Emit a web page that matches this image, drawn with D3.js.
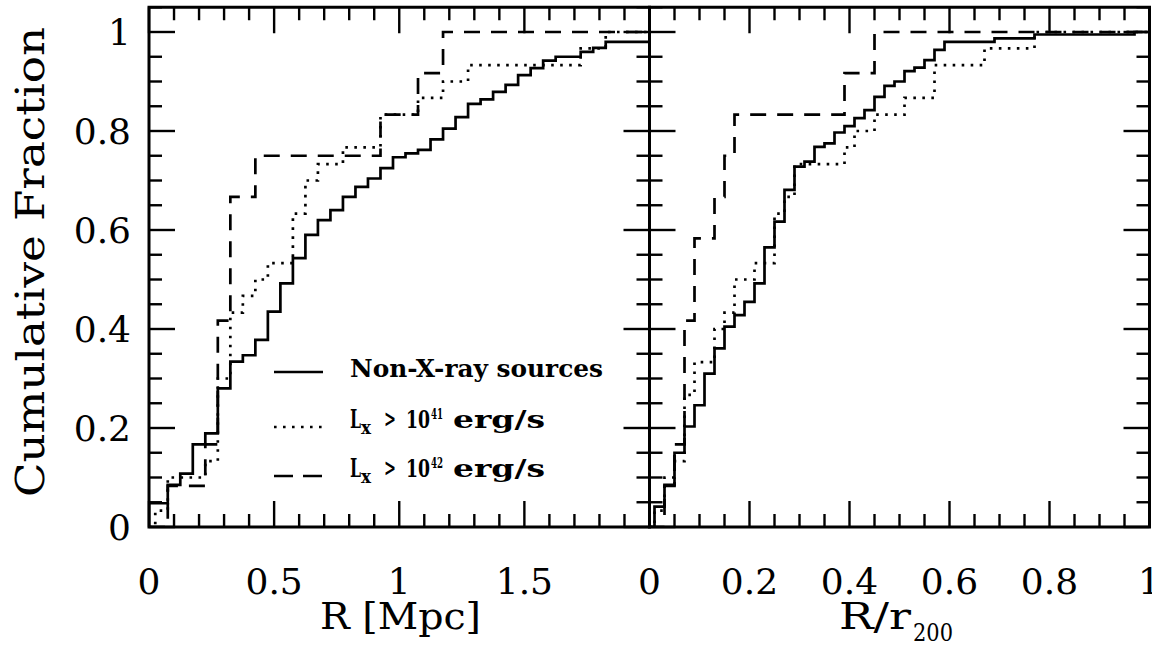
<!DOCTYPE html>
<html><head><meta charset="utf-8">
<script src="https://cdn.jsdelivr.net/npm/d3@7"></script>
<style>body{margin:0;background:#fff}svg{display:block}</style>
</head><body><svg id="c" width="1152" height="646"></svg>
<script>
// ---------------- data ----------------
const seriesNames = ["Non-X-ray sources", "L_X > 10^41 erg/s", "L_X > 10^42 erg/s"];

// Left panel: R [Mpc]; step positions and cumulative level after each step
const leftSolidX  = [0.0, 0.075, 0.125, 0.175, 0.225, 0.275, 0.325, 0.375, 0.425, 0.475, 0.525, 0.575, 0.625, 0.675, 0.725, 0.775, 0.825, 0.875, 0.925, 0.975, 1.025, 1.075, 1.125, 1.175, 1.225, 1.275, 1.325, 1.375, 1.425, 1.475, 1.525, 1.575, 1.625, 1.725, 1.775, 1.825];
const leftSolidY  = [0.048, 0.085, 0.108, 0.167, 0.189, 0.28, 0.334, 0.347, 0.378, 0.435, 0.492, 0.543, 0.590, 0.620, 0.640, 0.667, 0.687, 0.704, 0.725, 0.747, 0.755, 0.762, 0.783, 0.805, 0.828, 0.855, 0.864, 0.879, 0.893, 0.913, 0.927, 0.942, 0.950, 0.960, 0.968, 0.980];
const leftDotX    = [0.025, 0.075, 0.225, 0.275, 0.325, 0.375, 0.425, 0.475, 0.575, 0.625, 0.675, 0.775, 0.925, 1.075, 1.175, 1.275, 1.725, 1.825];
const leftDotY    = [0.033, 0.1, 0.133, 0.3, 0.433, 0.467, 0.5, 0.533, 0.633, 0.7, 0.733, 0.767, 0.833, 0.867, 0.9, 0.933, 0.967, 1.0];
const leftDashX   = [0.075, 0.225, 0.275, 0.325, 0.425, 0.925, 1.075, 1.175];
const leftDashY   = [0.083, 0.167, 0.417, 0.667, 0.75, 0.833, 0.917, 1.0];

// Right panel: R/r200
const rightSolidX = [0.01, 0.03, 0.05, 0.07, 0.09, 0.11, 0.13, 0.15, 0.17, 0.19, 0.21, 0.23, 0.25, 0.27, 0.29, 0.31, 0.33, 0.35, 0.37, 0.39, 0.41, 0.43, 0.45, 0.47, 0.49, 0.51, 0.53, 0.55, 0.57, 0.59, 0.69, 0.77, 0.97];
const rightSolidY = [0.041, 0.085, 0.15, 0.203, 0.246, 0.31, 0.361, 0.405, 0.428, 0.455, 0.492, 0.565, 0.617, 0.681, 0.728, 0.738, 0.768, 0.775, 0.797, 0.81, 0.826, 0.842, 0.869, 0.891, 0.90, 0.921, 0.928, 0.943, 0.964, 0.980, 0.987, 0.995, 1.0];
const rightDotX   = [0.01, 0.03, 0.05, 0.07, 0.09, 0.13, 0.15, 0.17, 0.21, 0.25, 0.27, 0.29, 0.39, 0.41, 0.45, 0.51, 0.57, 0.67, 0.77];
const rightDotY   = [0.033, 0.1, 0.133, 0.267, 0.333, 0.4, 0.433, 0.5, 0.533, 0.633, 0.667, 0.733, 0.767, 0.8, 0.833, 0.867, 0.933, 0.967, 1.0];
const rightDashX  = [0.03, 0.05, 0.07, 0.09, 0.13, 0.15, 0.17, 0.39, 0.45];
const rightDashY  = [0.083, 0.167, 0.417, 0.583, 0.667, 0.75, 0.833, 0.917, 1.0];

// axes
const yTickVals = [0, 0.2, 0.4, 0.6, 0.8, 1];
const yTickLabels = ["0", "0.2", "0.4", "0.6", "0.8", "1"];
const leftXTickVals = [0, 0.5, 1, 1.5];
const leftXTickLabels = ["0", "0.5", "1", "1.5"];
const rightXTickVals = [0, 0.2, 0.4, 0.6, 0.8, 1];
const rightXTickLabels = ["0", "0.2", "0.4", "0.6", "0.8", "1"];

// ---------------- drawing ----------------
const svg = d3.select("#c");
const Y0 = 527, Y1 = 7.25;
const y = d3.scaleLinear().domain([0, 1.05]).range([Y0, Y1]);
const xL = d3.scaleLinear().domain([0, 2]).range([149, 649.5]);
const xR = d3.scaleLinear().domain([0, 1]).range([649.5, 1149.5]);

const serif = "'DejaVu Serif', 'Liberation Serif', serif";
const styles = [
  {dash: null},
  {dash: "2.6,6.4"},
  {dash: "16,11"}
];

function stepData(xs, ys, xmax) {
  const pts = [[0, 0]];
  xs.forEach((v, i) => pts.push([v, ys[i]]));
  pts.push([xmax, ys[ys.length - 1]]);
  return pts;
}

function panel(id, xs, xmax, majorX, minorStep, series) {
  const g = svg.append("g");
  const [xa, xb] = xs.range();
  g.append("clipPath").attr("id", id).append("rect")
    .attr("x", xa).attr("y", Y1).attr("width", xb - xa).attr("height", Y0 - Y1);
  const line = d3.line().x(d => xs(d[0])).y(d => y(d[1])).curve(d3.curveStepAfter);
  series.forEach((s, i) => {
    g.append("path")
      .attr("d", line(stepData(s[0], s[1], xmax)))
      .attr("fill", "none").attr("stroke", "#000")
      .attr("stroke-width", 2.7)
      .attr("stroke-dasharray", styles[i].dash)
      .attr("clip-path", `url(#${id})`);
  });
  // ticks
  const tk = g.append("g").attr("stroke", "#000").attr("stroke-width", 2.4);
  const minorX = d3.range(0, xmax + 1e-9, minorStep);
  minorX.forEach(v => {
    const isMaj = majorX.some(m => Math.abs(m - v) < 1e-9);
    const L = isMaj ? 26 : 13;
    tk.append("line").attr("x1", xs(v)).attr("x2", xs(v)).attr("y1", Y0).attr("y2", Y0 - L);
    tk.append("line").attr("x1", xs(v)).attr("x2", xs(v)).attr("y1", Y1).attr("y2", Y1 + L);
  });
  d3.range(0, 1.0501, 0.05).forEach(v => {
    const isMaj = yTickVals.some(m => Math.abs(m - v) < 1e-9);
    const L = isMaj ? 26 : 13;
    tk.append("line").attr("x1", xa).attr("x2", xa + L).attr("y1", y(v)).attr("y2", y(v));
    tk.append("line").attr("x1", xb).attr("x2", xb - L).attr("y1", y(v)).attr("y2", y(v));
  });
  g.append("rect").attr("x", xa).attr("y", Y1).attr("width", xb - xa).attr("height", Y0 - Y1)
    .attr("fill", "none").attr("stroke", "#000").attr("stroke-width", 3);
  return g;
}

panel("clipL", xL, 2, [0, 0.5, 1, 1.5, 2], 0.1,
  [[leftSolidX, leftSolidY], [leftDotX, leftDotY], [leftDashX, leftDashY]]);
panel("clipR", xR, 1, [0, 0.2, 0.4, 0.6, 0.8, 1], 0.05,
  [[rightSolidX, rightSolidY], [rightDotX, rightDotY], [rightDashX, rightDashY]]);

// tick labels
const lab = svg.append("g").attr("font-family", serif).attr("font-size", 36).attr("fill", "#000");
yTickVals.forEach((v, i) => {
  lab.append("text").attr("x", 131).attr("y", y(v) + 13).attr("text-anchor", "end").text(yTickLabels[i]);
});
leftXTickVals.forEach((v, i) => {
  lab.append("text").attr("x", xL(v)).attr("y", 594).attr("text-anchor", "middle").text(leftXTickLabels[i]);
});
rightXTickVals.forEach((v, i) => {
  lab.append("text").attr("x", xR(v)).attr("y", 594).attr("text-anchor", "middle").text(rightXTickLabels[i]);
});

// axis titles
svg.append("text").attr("font-family", serif).attr("font-size", 40)
  .attr("transform", "translate(44,262) rotate(-90)")
  .attr("text-anchor", "middle").attr("textLength", 470).attr("lengthAdjust", "spacingAndGlyphs")
  .text("Cumulative Fraction");
svg.append("text").attr("font-family", serif).attr("font-size", 38)
  .attr("x", 320).attr("y", 629).attr("textLength", 161).attr("lengthAdjust", "spacingAndGlyphs")
  .text("R [Mpc]");
svg.append("text").attr("font-family", serif).attr("font-size", 38)
  .attr("x", 839).attr("y", 629).attr("textLength", 72).attr("lengthAdjust", "spacingAndGlyphs")
  .text("R/r");
svg.append("text").attr("font-family", serif).attr("font-size", 24)
  .attr("x", 913).attr("y", 641).attr("textLength", 40).attr("lengthAdjust", "spacingAndGlyphs")
  .text("200");

// legend
const leg = svg.append("g").attr("font-family", serif).attr("font-weight", "bold").attr("fill", "#000");
const legY = [372, 427, 476];
const legBase = [377, 428, 477];
styles.forEach((s, i) => {
  leg.append("line").attr("x1", 274).attr("x2", 323).attr("y1", legY[i]).attr("y2", legY[i])
    .attr("stroke", "#000").attr("stroke-width", 2.7).attr("stroke-dasharray", i === 2 ? "19,10" : s.dash);
});
leg.append("text").attr("x", 350).attr("y", legBase[0]).attr("font-size", 25)
  .attr("textLength", 253).attr("lengthAdjust", "spacingAndGlyphs").text(seriesNames[0]);
[1, 2].forEach(i => {
  const b = legBase[i];
  const exp = i === 1 ? "41" : "42";
  leg.append("text").attr("x", 350).attr("y", b).attr("font-size", 26)
    .attr("textLength", 11).attr("lengthAdjust", "spacingAndGlyphs").text("L");
  leg.append("text").attr("x", 361).attr("y", b + 6).attr("font-size", 18)
    .attr("textLength", 10).attr("lengthAdjust", "spacingAndGlyphs").text("x");
  leg.append("text").attr("x", 384).attr("y", b - 1).attr("font-size", 24)
    .attr("textLength", 12).attr("lengthAdjust", "spacingAndGlyphs").text(">");
  leg.append("text").attr("x", 406).attr("y", b).attr("font-size", 25)
    .attr("textLength", 24).attr("lengthAdjust", "spacingAndGlyphs").text("10");
  leg.append("text").attr("x", 431).attr("y", b - 9).attr("font-size", 14)
    .attr("textLength", 12).attr("lengthAdjust", "spacingAndGlyphs").text(exp);
  leg.append("text").attr("x", 453).attr("y", b).attr("font-size", 25)
    .attr("textLength", 92).attr("lengthAdjust", "spacingAndGlyphs").text("erg/s");
});
</script></body></html>
